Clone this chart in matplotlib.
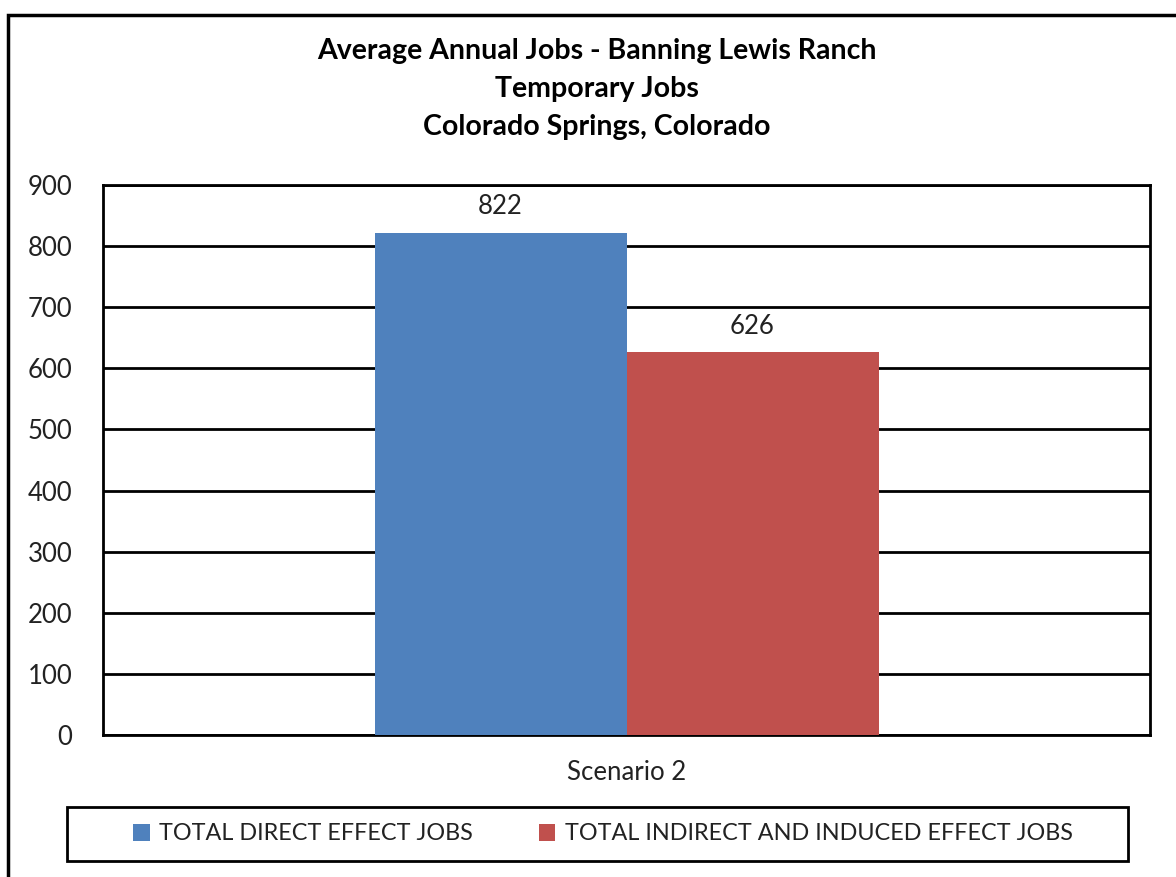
import matplotlib.pyplot as plt
from matplotlib.patches import Rectangle

plt.rcParams["font.family"] = ["Lato", "DejaVu Sans"]

category = ["Scenario 2"]
series = ["TOTAL DIRECT EFFECT JOBS", "TOTAL INDIRECT AND INDUCED EFFECT JOBS"]
values = [822, 626]
colors = ["#4f81bd", "#c0504d"]
yticks = [0, 100, 200, 300, 400, 500, 600, 700, 800, 900]


def main():
    W, H = 1176, 877
    fig = plt.figure(figsize=(W / 100, H / 100), dpi=100)

    # outer chart frame (right and bottom edge cut off in the original)
    fig.patches.append(Rectangle((8 / W, -0.05), 1.2, 1 - 15 / H + 0.05,
                                 transform=fig.transFigure, fill=False,
                                 edgecolor="black", linewidth=2.5))

    ax = fig.add_axes([103 / W, 1 - 735 / H, (1150 - 103) / W, (735 - 185) / H])

    width = 252 / 1047
    offsets = [-width / 2, width / 2]
    for name, val, col, off in zip(series, values, colors, offsets):
        ax.bar(0 + off, val, width=width, color=col, label=name, zorder=3)
        ax.text(0 + off, val + 22, str(val), ha="center", va="bottom",
                fontsize=18.5, color="#222222")

    ax.set_xlim(-0.5, 0.5)
    ax.set_ylim(0, 900)
    ax.set_yticks(yticks)
    ax.set_yticklabels([str(t) for t in yticks], fontsize=18.5, color="#222222")
    ax.set_xticks([0])
    ax.set_xticklabels(category, fontsize=18.5, color="#222222")
    ax.tick_params(length=0)
    ax.tick_params(axis="y", pad=22)
    ax.tick_params(axis="x", pad=18)
    ax.grid(axis="y", color="black", linewidth=2, zorder=0)
    for s in ax.spines.values():
        s.set_linewidth(2)
        s.set_color("black")

    fig.text(597 / W, 1 - 89 / H,
             "Average Annual Jobs - Banning Lewis Ranch\nTemporary Jobs\nColorado Springs, Colorado",
             ha="center", va="center", fontsize=20.5, fontweight="bold",
             linespacing=1.55)

    # legend box drawn separately so its padding matches the original
    fig.patches.append(Rectangle((67 / W, 1 - 861 / H), (1128 - 67) / W, 54 / H,
                                 transform=fig.transFigure, fill=False,
                                 edgecolor="black", linewidth=2))
    leg = fig.legend(loc="center", bbox_to_anchor=(603 / W, 1 - 834 / H),
                     ncol=2, fontsize=16.8, frameon=False,
                     handlelength=0.72, handleheight=0.72, handletextpad=0.4,
                     columnspacing=2.8, borderpad=0, borderaxespad=0)
    for t in leg.get_texts():
        t.set_color("#222222")

    fig.savefig("out.png", dpi=100)


if __name__ == "__main__":
    main()
